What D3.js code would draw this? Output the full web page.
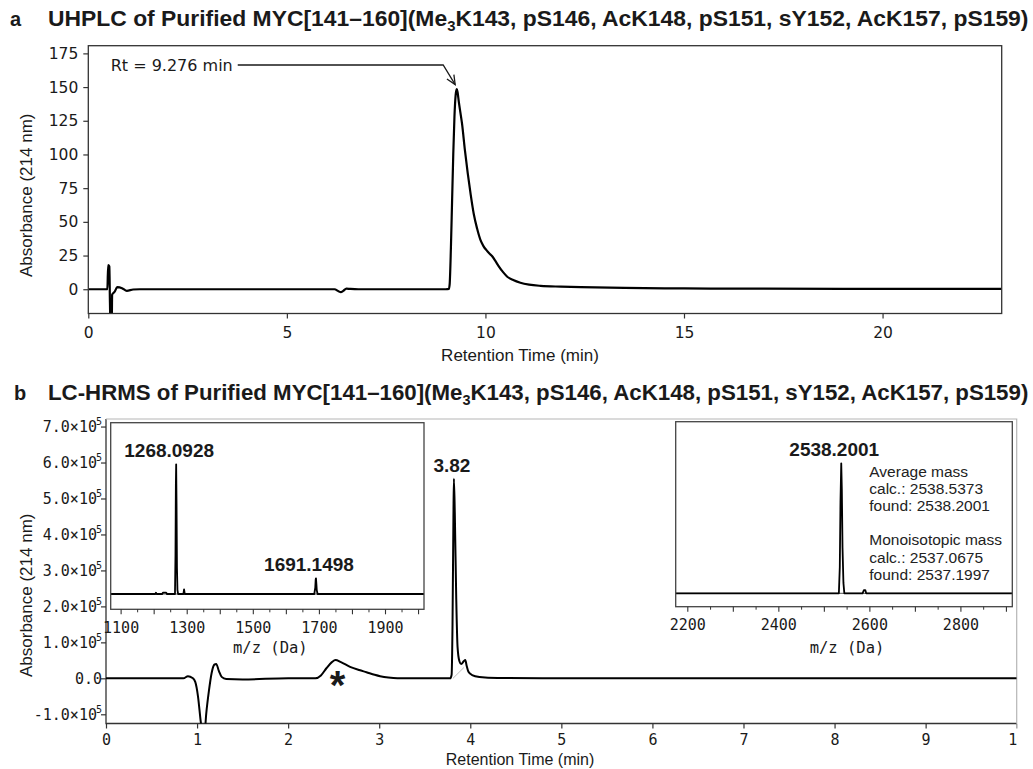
<!DOCTYPE html>
<html>
<head>
<meta charset="utf-8">
<script src="https://cdn.jsdelivr.net/npm/d3@7"></script>
<style>
  html, body { margin: 0; padding: 0; background: #fff; }
  svg { display: block; }
</style>
</head>
<body>
<svg id="fig" width="1033" height="769"></svg>
<script>
// ---------- Panel a: UHPLC trace (retention time in min, absorbance in mAU) ----------
const uhplcTime = [0, 0.45, 0.48, 0.50, 0.53, 0.545, 0.56, 0.59, 0.60, 0.66, 0.73, 0.85, 0.97, 1.13, 1.3,
  2, 3, 4, 5, 6, 6.2, 6.3, 6.36, 6.42, 6.5, 6.6, 6.8, 7, 8, 9.0, 9.08, 9.10, 9.13, 9.16, 9.19, 9.22, 9.25,
  9.276, 9.30, 9.33, 9.37, 9.41, 9.48, 9.555, 9.63, 9.705, 9.79, 9.874, 9.95, 10.025, 10.1, 10.17, 10.25,
  10.336, 10.45, 10.55, 10.7, 10.88, 11.1, 11.39, 11.9, 12.4, 13.5, 15, 17, 19, 21, 23];
const uhplcAbs = [0, 0, 0, 18, 17, -10, -30, -30, -4, -2, 1.5, 0.8, -1.2, -0.2, 0,
  0, 0, 0, 0, 0, 0, -1.5, -2.2, -1.2, 0.4, 0.2, 0, 0, 0, 0, 0.3, 4, 30, 65, 100, 128, 144,
  148.5, 146, 139, 131, 123, 104, 86, 70, 56, 45, 36.6, 32, 29, 26.5, 24.5, 21,
  17, 12.5, 9.3, 6.8, 4.8, 3.4, 2.5, 1.9, 1.5, 1.0, 0.6, 0.4, 0.3, 0.3, 0.3];
const uhplcXTicks = [0, 5, 10, 15, 20];
const uhplcYTicks = [0, 25, 50, 75, 100, 125, 150, 175];
const uhplcPeak = { rt: 9.276, abs: 148.5, label: "Rt = 9.276 min" };

// ---------- Panel b: LC-HRMS trace ----------
const lcTime = [0, 0.85, 0.90, 0.95, 0.98, 1.01, 1.04, 1.06, 1.08, 1.10, 1.13, 1.16, 1.19, 1.21, 1.24, 1.27,
  1.32, 1.5, 2.0, 2.3, 2.36, 2.42, 2.48, 2.52, 2.58, 2.68, 2.78, 2.86, 2.95, 3.01, 3.1, 3.2, 3.78, 3.795,
  3.805, 3.815, 3.82, 3.83, 3.846, 3.86, 3.88, 3.90, 3.93, 3.945, 3.96, 3.98, 4.02, 4.1, 4.3, 5, 6, 7, 8, 9, 10];
const lcAbs = [0, 0, 6000, 1000, -10000, -50000, -120000, -160000, -160000, -100000, -35000, 15000, 38000,
  40000, 20000, 4000, -2000, -3000, 0, 0, 8000, 28000, 45000, 51000, 45000, 32000, 23000, 17000, 10000,
  6000, 2000, 0, 0, 10000, 150000, 450000, 555000, 460000, 220000, 88000, 48000, 40000, 48000, 51000,
  35000, 18000, 9000, 4000, 1000, 0, 0, 0, 0, 0, 0];
const lcXTicks = [0, 1, 2, 3, 4, 5, 6, 7, 8, 9, 10];
const lcYTicks = [-100000, 0, 100000, 200000, 300000, 400000, 500000, 600000, 700000];
const lcMainPeak = { rt: 3.82, abs: 555000, label: "3.82" };
const lcImpurity = { rt: 2.52, abs: 51000, label: "*" };

// ---------- Mass spectra (m/z in Da, relative intensity in %) ----------
const ms1Mz  = [1070, 1205, 1207, 1209, 1226, 1228, 1238, 1240, 1264.5, 1266, 1267.2, 1268.09, 1269.2, 1270.5,
  1272, 1274, 1290, 1292, 1294, 1686, 1689, 1690.2, 1691.15, 1692.3, 1693.5, 1696, 2018];
const ms1Int = [0, 0, 1, 0, 0, 1, 1, 0, 0, 30, 85, 100, 70, 20, 3, 0, 0, 3.5, 0, 0, 5, 11, 12.1, 8, 3, 0, 0];
const ms1Peaks = [{ mz: 1268.09, int: 100, label: "1268.0928" }, { mz: 1691.15, int: 12.1, label: "1691.1498" }];
const ms1Ticks = [1100, 1200, 1300, 1400, 1500, 1600, 1700, 1800, 1900, 2000];
const ms1Minor = [1150, 1250, 1350, 1450, 1550, 1650, 1750, 1850, 1950];
const ms1Labels = [1100, 1300, 1500, 1700, 1900];

const ms2Mz  = [2174.5, 2533, 2535, 2536.5, 2538.2, 2539.5, 2541, 2543, 2545, 2585, 2588, 2591, 2593, 2914];
const ms2Int = [0, 0, 20, 70, 100, 80, 35, 8, 0, 0, 2.5, 2.5, 0, 0];
const ms2Peaks = [{ mz: 2538.2, int: 100, label: "2538.2001" }];
const ms2Ticks = [2200, 2300, 2400, 2500, 2600, 2700, 2800, 2900];
const ms2Minor = [2250, 2350, 2450, 2550, 2650, 2750, 2850];
const ms2Labels = [2200, 2400, 2600, 2800];
const massInfo = ["Average mass", "calc.: 2538.5373", "found: 2538.2001", "",
  "Monoisotopic mass", "calc.: 2537.0675", "found: 2537.1997"];

// ---------- Drawing ----------
const SANS = "'Liberation Sans', Arial, sans-serif";
const DJ = "'DejaVu Sans', sans-serif";
const MONO = "'DejaVu Sans Mono', monospace";
const INK = "#1a1a1a", AXIS = "#333";

const svg = d3.select("#fig");
const defs = svg.append("defs");

function zip(xs, ys) { return xs.map((v, i) => [v, ys[i]]); }

function panelTitle(y, letter, pre, sub, post, xLetter) {
  svg.append("text").attr("x", xLetter).attr("y", y)
    .attr("font-family", SANS).attr("font-weight", "bold").attr("font-size", 20)
    .attr("fill", INK).text(letter);
  const t = svg.append("text").attr("x", 48).attr("y", y)
    .attr("font-family", SANS).attr("font-weight", "bold").attr("fill", INK);
  t.append("tspan").text(pre);
  const s = t.append("tspan").attr("dy", 5).text(sub);
  t.append("tspan").attr("dy", -5).text(post);
  // fit the heading to the page width
  let fs = 20;
  t.attr("font-size", fs); s.attr("font-size", fs * 0.65);
  const w = t.node().getComputedTextLength();
  fs = fs * 981 / w;
  t.attr("font-size", fs); s.attr("font-size", fs * 0.65);
}

panelTitle(26, "a", "UHPLC of Purified MYC[141\u2013160](Me", "3",
  "K143, pS146, AcK148, pS151, sY152, AcK157, pS159)", 10);
panelTitle(400, "b", "LC-HRMS of Purified MYC[141\u2013160](Me", "3",
  "K143, pS146, AcK148, pS151, sY152, AcK157, pS159)", 14);

// ===== Panel a =====
const A = { l: 88.3, r: 1001.7, t: 45.7, b: 313.5 };
const xa = d3.scaleLinear().domain([0, 23]).range([A.l, A.r]);
const ya = d3.scaleLinear().domain([-18, 180.7]).range([A.b, A.t]);

defs.append("clipPath").attr("id", "clipA").append("rect")
  .attr("x", A.l).attr("y", A.t).attr("width", A.r - A.l).attr("height", A.b - A.t);

const gxa = svg.append("g").attr("transform", `translate(0,${A.b})`)
  .call(d3.axisBottom(xa).tickValues(uhplcXTicks).tickSize(5).tickPadding(8.5).tickSizeOuter(0));
const gya = svg.append("g").attr("transform", `translate(${A.l},0)`)
  .call(d3.axisLeft(ya).tickValues(uhplcYTicks).tickSize(5).tickPadding(5).tickSizeOuter(0));
[gxa, gya].forEach(g => {
  g.select(".domain").remove();
  g.selectAll(".tick line").attr("stroke", AXIS).attr("stroke-width", 1.2);
  g.selectAll(".tick text").attr("font-family", DJ).attr("font-size", 15.5).attr("fill", INK);
});

svg.append("path")
  .attr("clip-path", "url(#clipA)")
  .attr("d", d3.line().x(d => xa(d[0])).y(d => ya(d[1])).curve(d3.curveMonotoneX)(zip(uhplcTime, uhplcAbs)))
  .attr("fill", "none").attr("stroke", "#000").attr("stroke-width", 2.2).attr("stroke-linejoin", "round");

svg.append("rect").attr("x", A.l).attr("y", A.t).attr("width", A.r - A.l).attr("height", A.b - A.t)
  .attr("fill", "none").attr("stroke", AXIS).attr("stroke-width", 1.3);

svg.append("text").attr("x", 520).attr("y", 361).attr("text-anchor", "middle")
  .attr("font-family", SANS).attr("font-size", 17).attr("fill", INK).text("Retention Time (min)");
svg.append("text").attr("transform", "translate(31.5,277) rotate(-90)")
  .attr("font-family", SANS).attr("font-size", 17).attr("fill", INK).text("Absorbance (214 nm)");

// retention-time annotation with elbow arrow
const rtText = svg.append("text").attr("x", 110.7).attr("y", 70.5)
  .attr("font-family", DJ).attr("font-size", 16).attr("fill", INK).text(uhplcPeak.label);
const rtEnd = 110.7 + rtText.node().getComputedTextLength();
const tipX = xa(uhplcPeak.rt) - 1.5, tipY = ya(uhplcPeak.abs) - 4.5;
const elbowX = tipX - 12, lineY = 65;
svg.append("path")
  .attr("d", `M${rtEnd + 5},${lineY}H${elbowX}L${tipX},${tipY}`)
  .attr("fill", "none").attr("stroke", INK).attr("stroke-width", 1.3);
{
  const ang = Math.atan2(tipY - lineY, tipX - elbowX);
  const L = 10, spread = 0.42;
  const p1 = [tipX - L * Math.cos(ang - spread), tipY - L * Math.sin(ang - spread)];
  const p2 = [tipX - L * Math.cos(ang + spread), tipY - L * Math.sin(ang + spread)];
  svg.append("path").attr("d", `M${p1[0]},${p1[1]}L${tipX},${tipY}L${p2[0]},${p2[1]}`)
    .attr("fill", "none").attr("stroke", INK).attr("stroke-width", 1.3);
}

// ===== Panel b =====
const B = { l: 106, r: 1016.7, t: 419, b: 723.5 };
const xb = d3.scaleLinear().domain([0, 10]).range([B.l, B.r]);
const yb = d3.scaleLinear().domain([-125600, 721000]).range([B.b, B.t]);

defs.append("clipPath").attr("id", "clipB").append("rect")
  .attr("x", B.l).attr("y", B.t).attr("width", B.r - B.l).attr("height", B.b - B.t);
defs.append("clipPath").attr("id", "clipPage").append("rect")
  .attr("x", 0).attr("y", 0).attr("width", 1017.3).attr("height", 769);

const gxb = svg.append("g").attr("transform", `translate(0,${B.b})`).attr("clip-path", "url(#clipPage)")
  .call(d3.axisBottom(xb).tickValues(lcXTicks).tickSize(5).tickPadding(6).tickSizeOuter(0));
const gyb = svg.append("g").attr("transform", `translate(${B.l},0)`)
  .call(d3.axisLeft(yb).tickValues(lcYTicks).tickSize(5).tickFormat("").tickSizeOuter(0));
[gxb, gyb].forEach(g => {
  g.select(".domain").remove();
  g.selectAll(".tick line").attr("stroke", AXIS).attr("stroke-width", 1.2);
  g.selectAll(".tick text").attr("font-family", MONO).attr("font-size", 15).attr("fill", INK);
});
// scientific tick labels: m.0×10^5
lcYTicks.forEach(v => {
  const t = svg.append("text").attr("x", 102).attr("y", yb(v) + 5.5).attr("text-anchor", "end")
    .attr("font-family", MONO).attr("font-size", 15).attr("fill", INK);
  if (v === 0) { t.text("0.0"); return; }
  const m = v / 1e5;
  t.append("tspan").text(`${m.toFixed(1)}\u00d710`);
  t.append("tspan").attr("dy", -7).attr("dx", -1).attr("font-size", 10).text("5");
});

// frame: axes dark, top/right light
svg.append("path").attr("d", `M${B.l},${B.t}V${B.b}H${B.r}`)
  .attr("fill", "none").attr("stroke", AXIS).attr("stroke-width", 1.3);
svg.append("path").attr("d", `M${B.l},${B.t}H${B.r}V${B.b}`)
  .attr("fill", "none").attr("stroke", "#b5b5b5").attr("stroke-width", 1.2);

// integration baseline under the main peak
svg.append("line")
  .attr("x1", xb(3.81)).attr("y1", yb(0)).attr("x2", xb(3.93)).attr("y2", yb(30000))
  .attr("stroke", "#bdbdbd").attr("stroke-width", 1);

svg.append("path")
  .attr("clip-path", "url(#clipB)")
  .attr("d", d3.line().x(d => xb(d[0])).y(d => yb(d[1])).curve(d3.curveMonotoneX)(zip(lcTime, lcAbs)))
  .attr("fill", "none").attr("stroke", "#000").attr("stroke-width", 2).attr("stroke-linejoin", "round");

svg.append("text").attr("x", xb(lcMainPeak.rt) - 2).attr("y", yb(lcMainPeak.abs) - 7)
  .attr("text-anchor", "middle").attr("font-family", SANS).attr("font-weight", "bold")
  .attr("font-size", 19).attr("fill", INK).text(lcMainPeak.label);
svg.append("text").attr("x", xb(lcImpurity.rt) + 2).attr("y", yb(lcImpurity.abs) + 39)
  .attr("text-anchor", "middle").attr("font-family", SANS).attr("font-weight", "bold")
  .attr("font-size", 40).attr("fill", INK).text(lcImpurity.label);

svg.append("text").attr("x", 520).attr("y", 765).attr("text-anchor", "middle")
  .attr("font-family", SANS).attr("font-size", 16).attr("fill", INK).text("Retention Time (min)");
svg.append("text").attr("transform", "translate(31.5,677) rotate(-90)")
  .attr("font-family", SANS).attr("font-size", 17).attr("fill", INK).text("Absorbance (214 nm)");

// ===== Mass spectrum insets =====
function inset(box, xDomain, mz, inten, peaks, ticks, minor, labels) {
  const x = d3.scaleLinear().domain(xDomain).range([box.l, box.r]);
  const y = d3.scaleLinear().domain([box.yMin, box.yMax]).range([box.b, box.t]);
  const g = svg.append("g");
  g.append("rect").attr("x", box.l).attr("y", box.t).attr("width", box.r - box.l).attr("height", box.b - box.t)
    .attr("fill", "#fff").attr("stroke", "none");
  g.append("line").attr("x1", box.l).attr("x2", box.r).attr("y1", y(0)).attr("y2", y(0))
    .attr("stroke", "#555").attr("stroke-width", 1);
  g.append("path")
    .attr("d", d3.line().x(d => x(d[0])).y(d => y(d[1]))(zip(mz, inten)))
    .attr("fill", "none").attr("stroke", "#000").attr("stroke-width", 1.8).attr("stroke-linejoin", "round");
  g.append("rect").attr("x", box.l).attr("y", box.t).attr("width", box.r - box.l).attr("height", box.b - box.t)
    .attr("fill", "none").attr("stroke", "#444").attr("stroke-width", 1.3);
  const ax = g.append("g").attr("transform", `translate(0,${box.b})`)
    .call(d3.axisBottom(x).tickValues(ticks).tickSize(5).tickPadding(8)
      .tickFormat(d => labels.includes(d) ? String(d) : "").tickSizeOuter(0));
  ax.select(".domain").remove();
  ax.selectAll(".tick line").attr("stroke", AXIS).attr("stroke-width", 1.1);
  ax.selectAll(".tick text").attr("font-family", MONO).attr("font-size", 15).attr("fill", INK);
  const mn = g.append("g").attr("transform", `translate(0,${box.b})`)
    .call(d3.axisBottom(x).tickValues(minor).tickSize(3).tickFormat("").tickSizeOuter(0));
  mn.select(".domain").remove();
  mn.selectAll(".tick line").attr("stroke", AXIS).attr("stroke-width", 1);
  g.append("text").attr("x", (box.l + box.r) / 2 + 3).attr("y", 653).attr("text-anchor", "middle")
    .attr("font-family", MONO).attr("font-size", 15.5).attr("fill", INK).text("m/z (Da)");
  peaks.forEach(p => {
    g.append("text").attr("x", x(p.mz) - 7).attr("y", y(p.int) - 7).attr("text-anchor", "middle")
      .attr("font-family", SANS).attr("font-weight", "bold").attr("font-size", 19).attr("fill", INK)
      .text(p.label);
  });
  return { x, y, g };
}

inset({ l: 110.7, r: 424, t: 422.7, b: 609.3, yMin: -11.8, yMax: 132.1 }, [1070, 2018],
  ms1Mz, ms1Int, ms1Peaks, ms1Ticks, ms1Minor, ms1Labels);
const right = inset({ l: 675.7, r: 1012.3, t: 421.7, b: 606.7, yMin: -10.3, yMax: 132 }, [2174.5, 2914],
  ms2Mz, ms2Int, ms2Peaks, ms2Ticks, ms2Minor, ms2Labels);

const info = right.g.append("text").attr("font-family", SANS).attr("font-size", 15.5).attr("fill", "#222");
massInfo.forEach((line, i) => {
  info.append("tspan").attr("x", 869.3).attr("y", 477 + i * 17.1).text(line);
});
</script>
</body>
</html>
